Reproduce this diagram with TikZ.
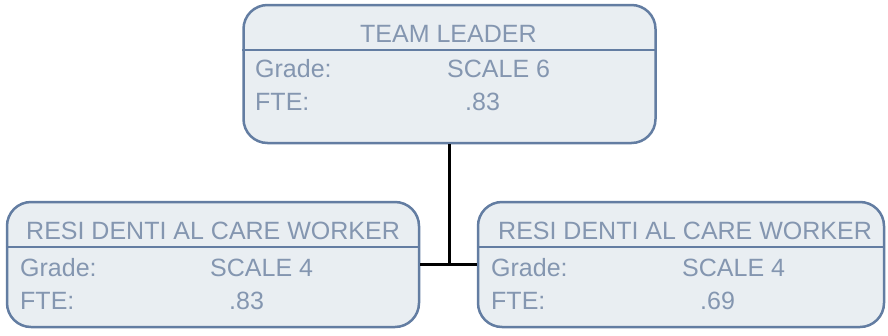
\documentclass[tikz,border=0pt]{standalone}
\usepackage{fontspec}
\setmainfont{Liberation Sans}
\definecolor{boxfill}{HTML}{E9EEF2}
\definecolor{boxline}{HTML}{637DA2}
\definecolor{boxtext}{HTML}{8496B0}
\begin{document}
\begin{tikzpicture}[x=1pt,y=-1pt,
  card/.style={draw=boxline,fill=boxfill,line width=2.5pt,rounded corners=24pt,inner sep=0pt},
  lbl/.style={anchor=base west,inner sep=0pt,text=boxtext,font=\fontsize{25}{30}\selectfont},
  divider/.style={draw=boxline,line width=2.5pt},
  link/.style={draw=black,line width=2.5pt}]
\useasboundingbox (0,0) rectangle (888,335);
% boxes
\node[card,minimum width=412pt,minimum height=138pt] (top) at (449.5,74) {};
\node[card,minimum width=412pt,minimum height=125pt] (left) at (213,264.5) {};
\node[card,minimum width=406pt,minimum height=125pt] (right) at (681,264.5) {};
% dividers
\draw[divider] (top.west |- 0,50) -- (top.east |- 0,50);
\draw[divider] (left.west |- 0,247) -- (left.east |- 0,247);
\draw[divider] (right.west |- 0,247) -- (right.east |- 0,247);
% connectors
\draw[link] (top.south) -- (top.south |- left.east);
\draw[link] (left.east) -- (right.west);
% top texts
\node[lbl] (t1) at (360,42.5) {TEAM LEADER};
\node[lbl] (t2) at (255,77.5) {Grade:};
\node[lbl] (t3) at (447,77.5) {SCALE 6};
\node[lbl] (t4) at (255,110) {FTE:};
\node[lbl] (t5) at (465,110) {.83};
% left texts
\node[lbl] (l1) at (26,239) {RESI DENTI AL CARE WORKER};
\node[lbl] (l2) at (20,276.5) {Grade:};
\node[lbl] (l3) at (210,276.5) {SCALE 4};
\node[lbl] (l4) at (20,309) {FTE:};
\node[lbl] (l5) at (229,309) {.83};
% right texts
\node[lbl] (r1) at (498,239) {RESI DENTI AL CARE WORKER};
\node[lbl] (r2) at (491,276.5) {Grade:};
\node[lbl] (r3) at (682,276.5) {SCALE 4};
\node[lbl] (r4) at (491,309) {FTE:};
\node[lbl] (r5) at (700,309) {.69};
\end{tikzpicture}
\end{document}
